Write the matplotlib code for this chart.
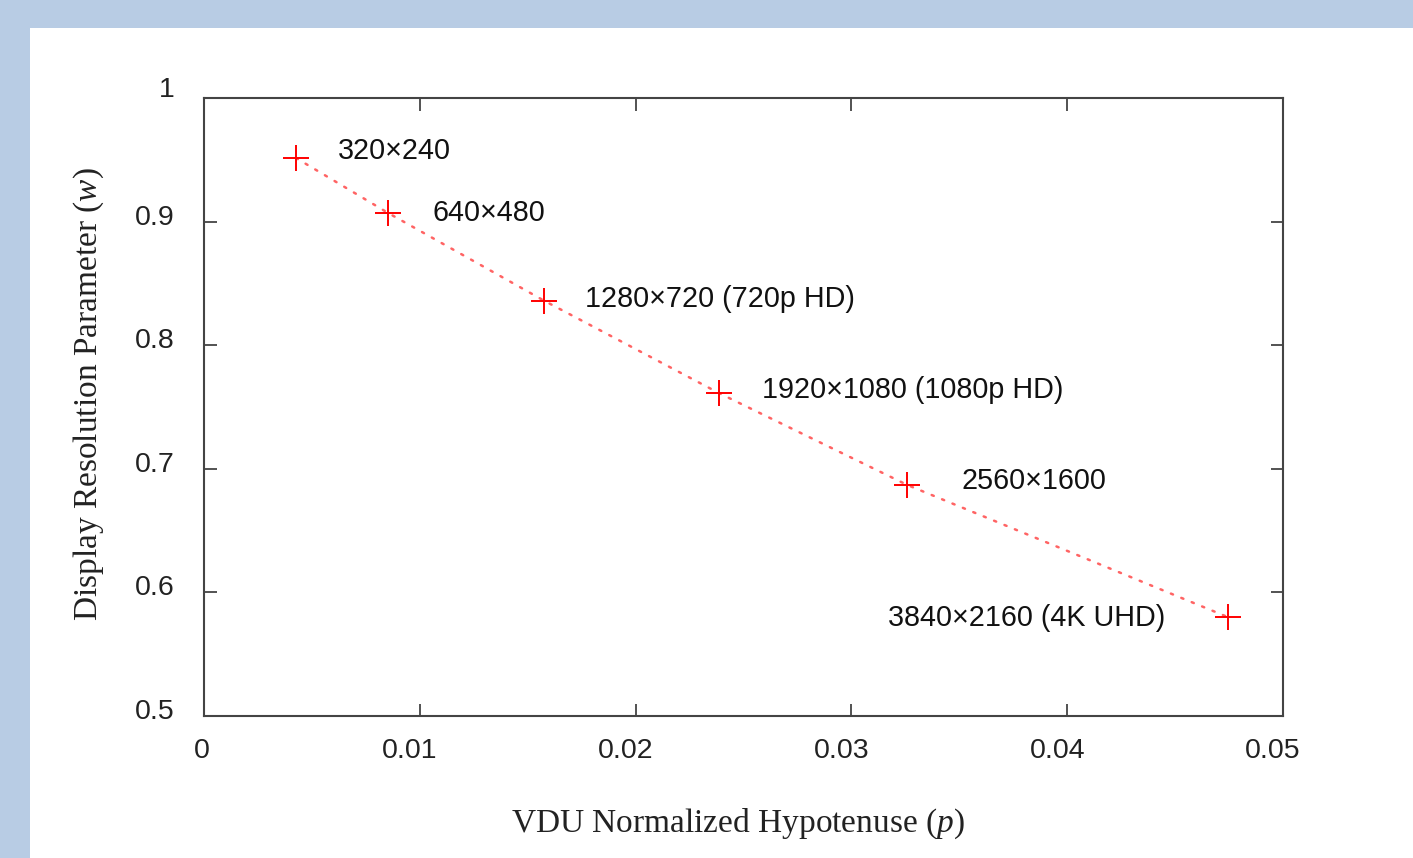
import matplotlib
matplotlib.use("Agg")
import matplotlib.pyplot as plt
import matplotlib.transforms as mtransforms
from matplotlib.patches import Rectangle

# Data
p_values = [0.00426, 0.00853, 0.01576, 0.02386, 0.03258, 0.04745]
w_values = [0.9515, 0.907, 0.836, 0.7613, 0.687, 0.580]
labels = ["320×240", "640×480", "1280×720 (720p HD)", "1920×1080 (1080p HD)",
          "2560×1600", "3840×2160 (4K UHD)"]
x_ticks = [0, 0.01, 0.02, 0.03, 0.04, 0.05]
x_tick_labels = ["0", "0.01", "0.02", "0.03", "0.04", "0.05"]
y_ticks = [0.5, 0.6, 0.7, 0.8, 0.9, 1.0]
y_tick_labels = ["0.5", "0.6", "0.7", "0.8", "0.9", "1"]

plt.rcParams["mathtext.fontset"] = "custom"
plt.rcParams["mathtext.it"] = "Liberation Serif:italic"
plt.rcParams["mathtext.rm"] = "Liberation Serif"

W, H = 1413, 858
fig = plt.figure(figsize=(W / 100, H / 100), dpi=100)
fig.patch.set_facecolor("#b8cce4")
bg = Rectangle((30 / W, 0), 1 - 30 / W, 1 - 28 / H,
               transform=fig.transFigure, facecolor="white",
               edgecolor="none", zorder=-10)
fig.patches.append(bg)

ax = fig.add_axes([204 / W, 1 - 716 / H, (1283 - 204) / W, (716 - 98) / H])
ax.set_zorder(5)
ax.set_facecolor("white")

ax.plot(p_values, w_values, linestyle=(0, (0.9, 3.6)), color="#ff6464", linewidth=1.8,
        dash_capstyle="round", zorder=2)
ax.plot(p_values, w_values, linestyle="none", marker="+", markersize=19,
        markeredgewidth=1.4, color="#ff0000", zorder=3)

# label offsets in pixels (dx, dy up), alignment
offsets = [(42, 7, "left"), (44, 0, "left"), (41, 2, "left"), (43, 3, "left"),
           (54, 4, "left"), (-63, -1, "right")]
for x, y, lab, (dx, dy, ha) in zip(p_values, w_values, labels, offsets):
    ax.annotate(lab, (x, y), xytext=(dx * 0.72, dy * 0.72), textcoords="offset points",
                ha=ha, va="center", fontsize=20.7, family="Liberation Sans", color="#111111")

ax.set_xlim(0, 0.05)
ax.set_ylim(0.5, 1.0)
ax.set_xticks(x_ticks)
ax.set_yticks(y_ticks)
ax.set_xticklabels([])
ax.set_yticklabels([])

# tick labels drawn as text, nudged like the original renderer
px = lambda dx, dy: mtransforms.ScaledTranslation(dx / 100, dy / 100, fig.dpi_scale_trans)
xtrans = mtransforms.blended_transform_factory(ax.transData, ax.transAxes)
for xv, lab in zip(x_ticks, x_tick_labels):
    dx = -2 if len(lab) == 1 else -10
    ax.text(xv, 0, lab, transform=xtrans + px(dx, -35), ha="center", va="center",
            fontsize=20.5, family="Liberation Sans", color="#222222", clip_on=False)
ytrans = mtransforms.blended_transform_factory(ax.transAxes, ax.transData)
for yv, lab in zip(y_ticks, y_tick_labels):
    dy = 8 if len(lab) == 1 else 4
    ax.text(0, yv, lab, transform=ytrans + px(-29, dy), ha="right", va="center",
            fontsize=20.5, family="Liberation Sans", color="#222222", clip_on=False)

ax.tick_params(direction="in", length=9, width=1.3, color="#444444",
               top=True, right=True)
for s in ax.spines.values():
    s.set_color("#444444")
    s.set_linewidth(1.5)

ax.set_xlabel("VDU Normalized Hypotenuse ($p$)", family="Liberation Serif",
              fontsize=24, color="#222222", va="center")
ax.xaxis.set_label_coords((738 - 204) / 1079, -(824 - 716) / 618)
ax.set_ylabel("Display Resolution Parameter ($w$)", family="Liberation Serif",
              fontsize=24, color="#222222", va="center")
ax.yaxis.set_label_coords((89 - 204) / 1079, 1 - (394 - 98) / 618)

fig.savefig("out.png", dpi=100, facecolor=fig.get_facecolor())
